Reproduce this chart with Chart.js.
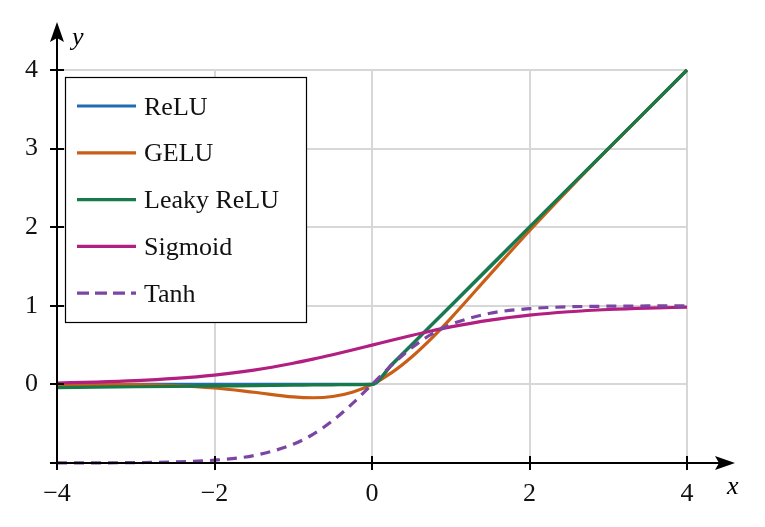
<!DOCTYPE html>
<html lang="en">
<head>
    <meta charset="UTF-8">
    <title>Activation functions</title>
    <style>
        html, body { margin: 0; padding: 0; background: #ffffff; }
        #wrap { width: 765px; height: 527px; }
    </style>
    <script src="https://cdn.jsdelivr.net/npm/chart.js"></script>
</head>
<body>
<div id="wrap"><canvas id="myChart" width="765" height="527"></canvas></div>
<script>
const xs = [-4, -3.5, -3, -2.5, -2, -1.5, -1, -0.75, -0.5, -0.25, 0, 0.25, 0.5, 0.75, 1, 1.5, 2, 2.5, 3, 3.5, 4];

const relu = [0, 0, 0, 0, 0, 0, 0, 0, 0, 0, 0, 0.25, 0.5, 0.75, 1, 1.5, 2, 2.5, 3, 3.5, 4];
const gelu = [-0.0001, -0.0008, -0.004, -0.016, -0.046, -0.100, -0.159, -0.170, -0.154, -0.100, 0, 0.150, 0.346, 0.580, 0.841, 1.400, 1.955, 2.484, 2.996, 3.499, 4.0];
const leaky = [-0.04, -0.035, -0.03, -0.025, -0.02, -0.015, -0.01, -0.0075, -0.005, -0.0025, 0, 0.25, 0.5, 0.75, 1, 1.5, 2, 2.5, 3, 3.5, 4];
const sigmoid = [0.018, 0.029, 0.047, 0.076, 0.119, 0.182, 0.269, 0.321, 0.378, 0.438, 0.5, 0.562, 0.622, 0.679, 0.731, 0.818, 0.881, 0.924, 0.953, 0.971, 0.982];
const tanh = [-0.999, -0.998, -0.995, -0.987, -0.964, -0.905, -0.762, -0.635, -0.462, -0.245, 0, 0.245, 0.462, 0.635, 0.762, 0.905, 0.964, 0.987, 0.995, 0.998, 0.999];

const seriesNames = ['ReLU', 'GELU', 'Leaky ReLU', 'Sigmoid', 'Tanh'];
const seriesColors = ['#1f6cb0', '#c95f17', '#187a48', '#b11f80', '#7b45a3'];

const xTicks = [-4, -2, 0, 2, 4];
const yTicks = [-1, 0, 1, 2, 3, 4];

const FONT = "'Liberation Serif', 'DejaVu Serif', serif";

function pts(vals) {
    return xs.map((x, i) => ({ x: x, y: vals[i] }));
}

function minus(v) {
    return v < 0 ? '\u2212' + Math.abs(v) : String(v);
}

// axes with arrows, tick marks through the axis, axis names and the framed legend
const axisDecor = {
    id: 'axisDecor',
    afterDatasetsDraw(chart) {
        const ctx = chart.ctx;
        const a = chart.chartArea;
        const xs_ = chart.scales.x;
        const ys_ = chart.scales.y;
        ctx.save();
        ctx.strokeStyle = '#000';
        ctx.fillStyle = '#000';
        ctx.lineWidth = 2;

        // axis lines, extended to the arrows
        ctx.beginPath();
        ctx.moveTo(a.left, a.bottom);
        ctx.lineTo(722, a.bottom);
        ctx.moveTo(a.left, a.bottom);
        ctx.lineTo(a.left, 34);
        ctx.stroke();

        // arrow heads
        ctx.beginPath();
        ctx.moveTo(735, a.bottom);
        ctx.lineTo(715, a.bottom - 7);
        ctx.lineTo(719, a.bottom);
        ctx.lineTo(715, a.bottom + 7);
        ctx.closePath();
        ctx.fill();
        ctx.beginPath();
        ctx.moveTo(a.left, 22);
        ctx.lineTo(a.left - 7, 42);
        ctx.lineTo(a.left, 38);
        ctx.lineTo(a.left + 7, 42);
        ctx.closePath();
        ctx.fill();

        // tick marks
        ctx.beginPath();
        xTicks.forEach(v => {
            const p = Math.round(xs_.getPixelForValue(v));
            ctx.moveTo(p, a.bottom - 7);
            ctx.lineTo(p, a.bottom + 7);
        });
        yTicks.forEach(v => {
            const p = Math.round(ys_.getPixelForValue(v));
            ctx.moveTo(a.left - 7, p);
            ctx.lineTo(a.left + 7, p);
        });
        ctx.stroke();

        // axis names
        ctx.font = 'italic 26px ' + FONT;
        ctx.textAlign = 'left';
        ctx.textBaseline = 'alphabetic';
        ctx.fillText('x', 727, 494);
        ctx.fillText('y', 72, 45);

        // legend
        const lx = 65, ly = 77, lw = 241, lh = 245;
        ctx.fillStyle = '#fff';
        ctx.fillRect(lx, ly, lw, lh);
        ctx.lineWidth = 1.2;
        ctx.strokeStyle = '#000';
        ctx.strokeRect(lx + 0.5, ly + 0.5, lw, lh);
        chart.data.datasets.forEach((ds, i) => {
            const cy = 106 + i * 46.8;
            ctx.beginPath();
            ctx.lineWidth = 3.2;
            ctx.strokeStyle = ds.borderColor;
            ctx.setLineDash(ds.borderDash && ds.borderDash.length ? [12, 6] : []);
            ctx.moveTo(77, cy);
            ctx.lineTo(136, cy);
            ctx.stroke();
            ctx.setLineDash([]);
            ctx.fillStyle = '#111';
            ctx.font = '26px ' + FONT;
            ctx.textBaseline = 'alphabetic';
            ctx.fillText(ds.label, 144, cy + 8.5);
        });
        ctx.restore();
    }
};

const allSeries = [relu, gelu, leaky, sigmoid, tanh];

const ctx = document.getElementById('myChart').getContext('2d');
const myChart = new Chart(ctx, {
    type: 'line',
    data: {
        datasets: allSeries.map((vals, i) => ({
            label: seriesNames[i],
            data: pts(vals),
            borderColor: seriesColors[i],
            borderWidth: 3.2,
            borderDash: i === 4 ? [10, 7] : [],
            pointRadius: 0,
            fill: false,
            cubicInterpolationMode: 'monotone',
            order: 5 - i,
            clip: 4
        }))
    },
    options: {
        responsive: false,
        animation: false,
        layout: { padding: { left: 0, right: 78, top: 70, bottom: 0 } },
        plugins: { legend: { display: false }, tooltip: { enabled: false } },
        scales: {
            x: {
                type: 'linear',
                min: -4,
                max: 4,
                afterFit(scale) { scale.height = 64; },
                afterBuildTicks(scale) { scale.ticks = xTicks.map(v => ({ value: v })); },
                border: { display: false },
                grid: {
                    drawTicks: false,
                    lineWidth: 2,
                    color: c => c.tick && c.tick.value === -4 ? 'rgba(0,0,0,0)' : '#d7d7d7'
                },
                ticks: {
                    padding: 16,
                    color: '#111',
                    font: { family: FONT, size: 26 },
                    callback: v => minus(v)
                }
            },
            y: {
                type: 'linear',
                min: -1,
                max: 4,
                afterFit(scale) { scale.width = 57; },
                afterBuildTicks(scale) { scale.ticks = yTicks.map(v => ({ value: v })); },
                border: { display: false },
                grid: {
                    drawTicks: false,
                    lineWidth: 2,
                    color: c => c.tick && c.tick.value === -1 ? 'rgba(0,0,0,0)' : '#d7d7d7'
                },
                ticks: {
                    padding: 19,
                    color: '#111',
                    font: { family: FONT, size: 26 },
                    callback: v => v === -1 ? '' : minus(v)
                }
            }
        }
    },
    plugins: [axisDecor]
});
</script>
</body>
</html>
